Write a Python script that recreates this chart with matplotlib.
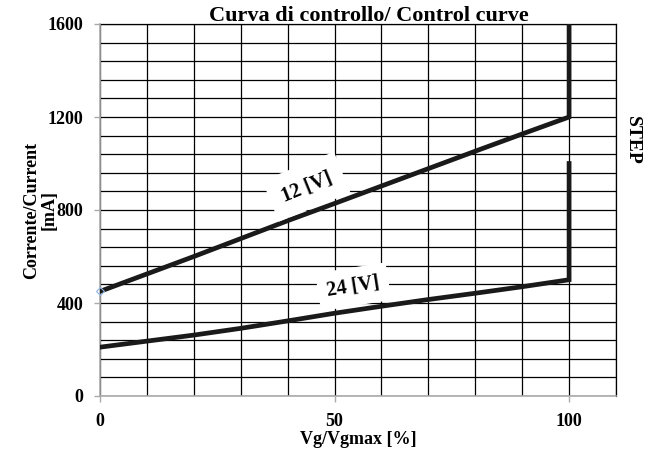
import matplotlib
matplotlib.use("Agg")
import matplotlib.pyplot as plt
import numpy as np

# Data
x_pct = [0, 10, 20, 30, 40, 50, 60, 70, 80, 90, 100]
i_12v = [450, 525, 600, 677, 754, 828, 903, 978, 1053, 1127, 1200]
i_24v = [210, 236, 262, 291, 323, 356, 386, 415, 442, 470, 500]
step_top_12v = 1600
step_top_24v = 1000

x_ticks = [0, 50, 100]
y_ticks = [0, 400, 800, 1200, 1600]

plt.rcParams['font.family'] = ['Liberation Serif', 'DejaVu Serif']
plt.rcParams['font.weight'] = 'bold'

fig = plt.figure(figsize=(6.54, 4.5), dpi=100)
ax = fig.add_axes([100/654, 54/450, 516/654, 372/450])

# curves, each ending in a vertical step at 100 %
ax.plot(x_pct + [x_pct[-1]], i_12v + [step_top_12v], color='#1a1a1a', lw=3.4,
        solid_joinstyle='miter', zorder=3)
ax.plot(x_pct + [x_pct[-1]], i_24v + [step_top_24v], color='#1a1a1a', lw=3.4,
        solid_joinstyle='miter', zorder=3)
ax.plot([x_pct[0]], [i_12v[0]], marker='D', ms=4, mfc='none', mec='#8fb4e0',
        mew=0.8, zorder=4, clip_on=False)

ax.set_xlim(0, 110)
ax.set_ylim(0, 1600)
ax.set_xticks(x_ticks)
ax.set_yticks(y_ticks)
ax.set_xticks(np.arange(0, 111, 10), minor=True)
ax.set_yticks(np.arange(0, 1601, 80), minor=True)
ax.grid(which='both', color='black', lw=0.9)
ax.set_axisbelow(True)

ax.tick_params(which='major', length=4, width=1, color='#aaaaaa', pad=8,
               labelsize=13)
ax.tick_params(which='minor', length=0)
for lbl in ax.get_xticklabels() + ax.get_yticklabels():
    lbl.set_fontweight('bold')

for side in ('left', 'bottom'):
    ax.spines[side].set_color('#aaaaaa')
    ax.spines[side].set_linewidth(1.2)
    ax.spines[side].set_zorder(2.6)
for side in ('top', 'right'):
    ax.spines[side].set_color('black')
    ax.spines[side].set_linewidth(0.9)

ax.set_xlabel('Vg/Vgmax [%]', fontsize=13, fontweight='bold', labelpad=1)
ax.set_ylabel('Corrente/Current\n[mA]', fontsize=13, fontweight='bold',
              linespacing=1.0)
ax.yaxis.set_label_coords(-0.083, 0.5)

# curve labels
ax.text(44, 900, '12 [V]', fontsize=14.5, fontweight='bold', rotation=22,
        ha='center', va='center', zorder=5,
        bbox=dict(boxstyle='square,pad=0.6', fc='white', ec='none'))
ax.text(54, 470, '24 [V]', fontsize=14.5, fontweight='bold', rotation=9,
        ha='center', va='center', zorder=5,
        bbox=dict(boxstyle='square,pad=0.45', fc='white', ec='none'))

fig.text(369/654, 1 - 21/450, 'Curva di controllo/ Control curve',
         fontsize=16, fontweight='bold', ha='center', va='baseline')
fig.text(632/654, 1 - 140/450, 'STEP', fontsize=14, fontweight='bold',
         rotation=-90, ha='center', va='center')

fig.savefig('out.png', dpi=100)
